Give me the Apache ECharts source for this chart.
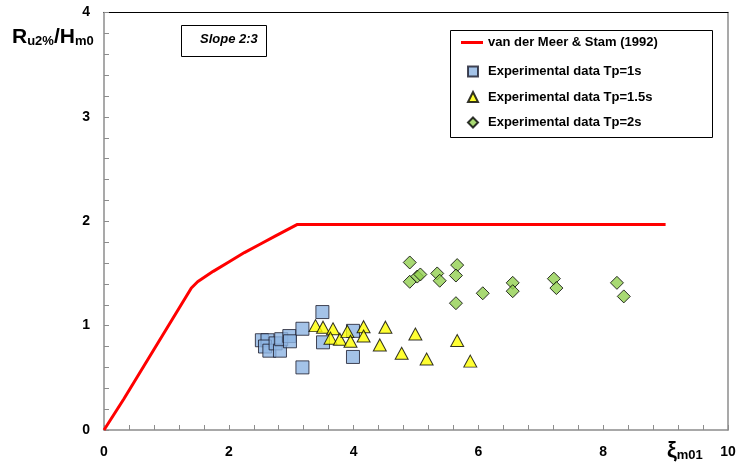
<!DOCTYPE html>
<html>
<head>
<meta charset="utf-8">
<script src="https://cdn.jsdelivr.net/npm/echarts@6/dist/echarts.min.js"></script>
<style>html,body{margin:0;padding:0;background:#fff}#c{width:739px;height:470px}</style>
</head>
<body>
<div id="c"></div>
<script>
// van der Meer & Stam (1992) curve
const vdmLine = [[0,0],[0.32,0.30],[1.4,1.36],[1.5,1.42],[1.75,1.52],[2.0,1.61],[2.25,1.70],[2.5,1.78],[2.75,1.86],[3.1,1.97],[9.0,1.97]];
// Experimental data Tp=1s
const tp1 = [[2.53,0.86],[2.62,0.86],[2.58,0.80],[2.65,0.76],[2.75,0.83],[2.82,0.76],[2.84,0.87],[2.97,0.90],[2.98,0.85],[3.18,0.97],[3.18,0.60],[3.50,1.13],[3.51,0.84],[3.99,0.95],[3.99,0.70]];
// Experimental data Tp=1.5s
const tp15 = [[3.39,1.00],[3.51,0.985],[3.67,0.97],[3.63,0.88],[3.78,0.87],[3.90,0.945],[3.95,0.85],[4.16,0.99],[4.16,0.90],[4.51,0.985],[4.42,0.815],[4.99,0.92],[4.77,0.735],[5.17,0.68],[5.66,0.857],[5.87,0.66]];
// Experimental data Tp=2s
const tp2 = [[4.90,1.605],[4.90,1.42],[5.02,1.47],[5.07,1.49],[5.34,1.50],[5.38,1.43],[5.66,1.58],[5.64,1.48],[5.64,1.215],[6.07,1.31],[6.55,1.41],[6.55,1.33],[7.21,1.45],[7.25,1.36],[8.22,1.41],[8.33,1.28]];
const seriesNames = ['van der Meer & Stam (1992)','Experimental data Tp=1s','Experimental data Tp=1.5s','Experimental data Tp=2s'];
const xTicks = [0,2,4,6,8,10];
const yTicks = [0,1,2,3,4];

const FF = '"Liberation Sans", Arial, sans-serif';
const chart = echarts.init(document.getElementById('c'));
const axisCommon = {
  axisLine:{show:true,lineStyle:{color:'#8c8c8c',width:1.5}},
  axisTick:{show:true,inside:true,length:5,lineStyle:{color:'#8c8c8c'}},
  minorTick:{show:true,splitNumber:5,length:5,lineStyle:{color:'#8c8c8c'}},
  splitLine:{show:false},
  axisLabel:{fontFamily:FF,fontSize:14,fontWeight:'bold',color:'#000'}
};
const legText = {fontFamily:FF,fontSize:13,fontWeight:'bold',color:'#000'};
chart.setOption({
  animation:false,
  grid:{left:104,right:11,top:12.5,bottom:40,show:false},
  xAxis:[Object.assign({},axisCommon,{type:'value',min:xTicks[0],max:xTicks[xTicks.length-1],interval:2,
      axisLabel:Object.assign({},axisCommon.axisLabel,{margin:15})}),
    {type:'value',position:'top',min:0,max:10,axisLine:{show:true,onZero:false,lineStyle:{color:'#000',width:1}},axisTick:{show:false},axisLabel:{show:false},splitLine:{show:false}}],
  yAxis:[Object.assign({},axisCommon,{type:'value',min:yTicks[0],max:yTicks[yTicks.length-1],interval:1,
      axisLabel:Object.assign({},axisCommon.axisLabel,{margin:14})}),
    {type:'value',position:'right',min:0,max:4,axisLine:{show:true,onZero:false,lineStyle:{color:'#8c8c8c',width:1.5}},axisTick:{show:false},axisLabel:{show:false},splitLine:{show:false}}],
  legend:[
    {orient:'vertical',left:461,top:36,itemWidth:22,itemHeight:3,padding:0,
      textStyle:legText,data:[{name:seriesNames[0],icon:'rect'}]},
    {orient:'vertical',left:467,top:65,itemWidth:10,itemHeight:10,itemGap:12.5,padding:0,
      textStyle:Object.assign({},legText,{padding:[0,0,0,5]}),
      data:[{name:seriesNames[1],icon:'rect'},{name:seriesNames[2],icon:'triangle'},{name:seriesNames[3],icon:'diamond'}]}
  ],
  graphic:[
    {type:'rect',left:448,top:28,shape:{width:262,height:107},style:{fill:'none',stroke:'#000',lineWidth:1},z:-1},
    {type:'rect',left:181,top:25,shape:{width:85,height:31},style:{fill:'#fff',stroke:'#000',lineWidth:1}},
    {type:'text',left:200,top:33,style:{text:'Slope 2:3',font:'italic bold 13px '+FF,fill:'#000'}},
    {type:'text',left:12,top:27,style:{text:'{a|R}{b|u2%}{a|/H}{b|m0}',rich:{
      a:{fontFamily:FF,fontSize:21,fontWeight:'bold',fill:'#000',verticalAlign:'bottom',lineHeight:22},
      b:{fontFamily:FF,fontSize:13,fontWeight:'bold',fill:'#000',verticalAlign:'bottom',lineHeight:14}}}},
    {type:'text',left:667,top:440,style:{text:'{a|ξ}{b|m01}',rich:{
      a:{fontFamily:FF,fontSize:22,fontWeight:'bold',fill:'#000',verticalAlign:'bottom',lineHeight:22},
      b:{fontFamily:FF,fontSize:13,fontWeight:'bold',fill:'#000',verticalAlign:'bottom',lineHeight:14}}}}
  ],
  series:[
    {name:seriesNames[0],type:'line',data:vdmLine,symbol:'none',smooth:false,lineStyle:{color:'#ff0000',width:3},itemStyle:{color:'#ff0000'},z:2},
    {name:seriesNames[1],type:'scatter',data:tp1,symbol:'rect',symbolSize:13,itemStyle:{color:'#8db4e2',borderColor:'#1a1a2a',borderWidth:1},z:3},
    {name:seriesNames[2],type:'scatter',data:tp15,symbol:'triangle',symbolSize:[13,12],itemStyle:{color:'#ffff00',borderColor:'#000',borderWidth:1},z:4},
    {name:seriesNames[3],type:'scatter',data:tp2,symbol:'diamond',symbolSize:13,itemStyle:{color:'#92d050',borderColor:'#000',borderWidth:1},z:5}
  ]
});
</script>
</body>
</html>
